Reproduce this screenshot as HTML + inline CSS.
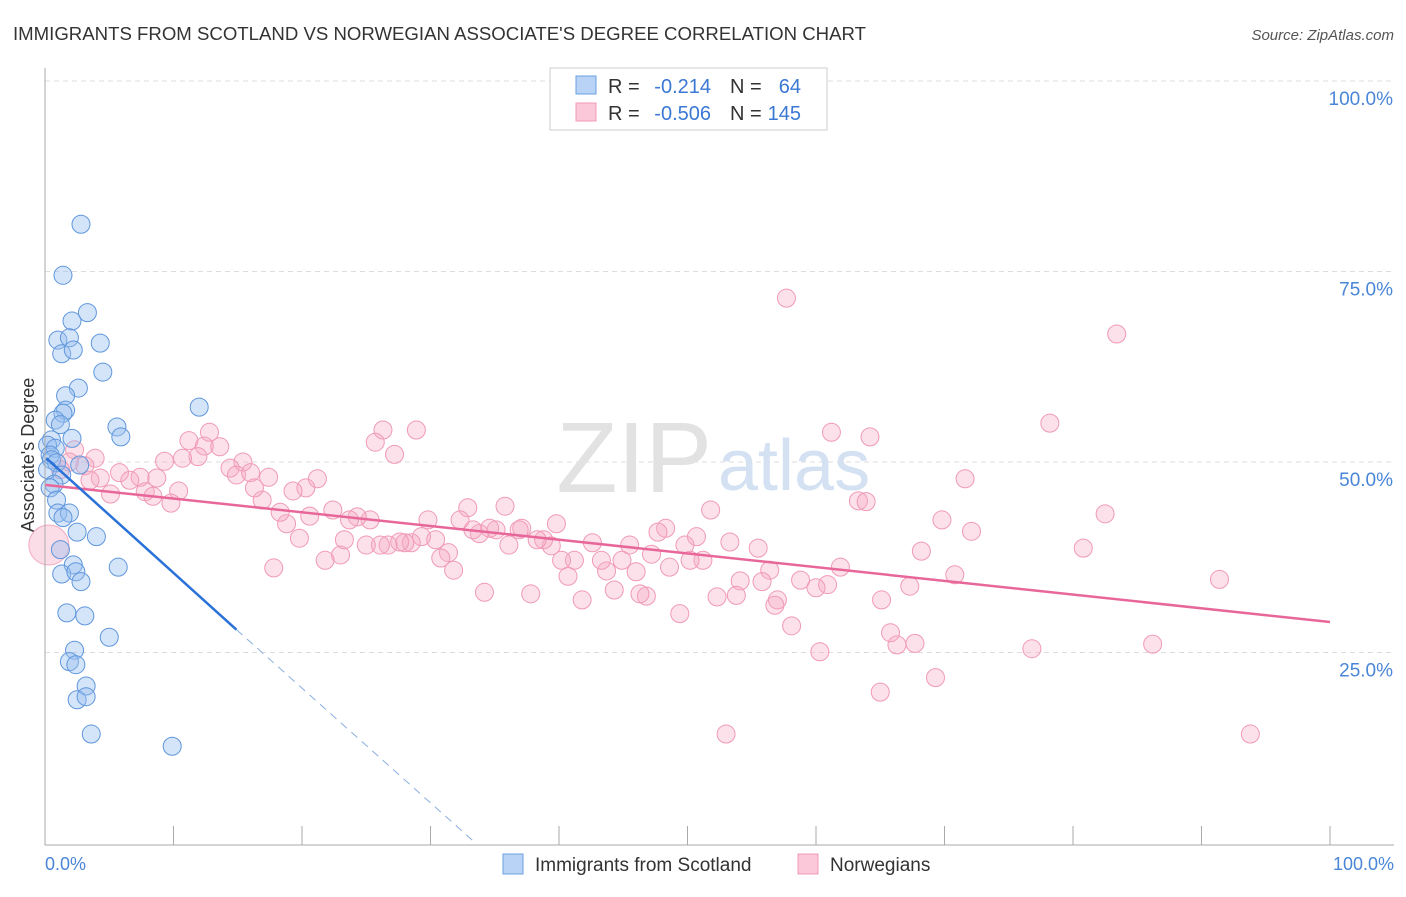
<!DOCTYPE html>
<html><head><meta charset="utf-8"><style>
body{margin:0;background:#fff;font-family:"Liberation Sans",sans-serif;}
svg text{font-family:"Liberation Sans",sans-serif;}
</style></head><body>
<svg width="1406" height="892" viewBox="0 0 1406 892">
<text x="13" y="40" font-size="18" fill="#333" textLength="853" lengthAdjust="spacingAndGlyphs">IMMIGRANTS FROM SCOTLAND VS NORWEGIAN ASSOCIATE'S DEGREE CORRELATION CHART</text>
<text x="1394" y="40" font-size="15" fill="#555" font-style="italic" text-anchor="end">Source: ZipAtlas.com</text>
<g id="grid"></g>
<text x="712" y="492" font-size="100" fill="#e2e2e2" text-anchor="end" font-family="Liberation Serif">ZIP</text>
<text x="718" y="490" font-size="72" fill="#d3e1f3">atlas</text>
<g id="ylabels"></g>
<text transform="translate(34,455) rotate(-90)" font-size="18" fill="#333" text-anchor="middle">Associate's Degree</text>
<g id="pts"></g>
<g id="lines"></g>
<line x1="45" y1="68" x2="45" y2="845" stroke="#aaa"/>
<line x1="45" y1="845" x2="1394" y2="845" stroke="#aaa"/>
<g id="xticks"></g>
<text x="45" y="870" font-size="18" fill="#4a86d8">0.0%</text>
<text x="1394" y="870" font-size="18" fill="#4a86d8" text-anchor="end">100.0%</text>
<g>
<rect x="550" y="68" width="277" height="62" fill="#fff" stroke="#ccc"/>
<rect x="576" y="76" width="20" height="18" fill="#b8d3f5" stroke="#6a9fe0"/>
<rect x="576" y="103" width="20" height="18" fill="#fac8d8" stroke="#f09ab5"/>
<text x="608" y="93" font-size="20" fill="#333">R =</text>
<text x="711" y="93" font-size="20" fill="#3a78d4" text-anchor="end">-0.214</text>
<text x="730" y="93" font-size="20" fill="#333">N =</text>
<text x="801" y="93" font-size="20" fill="#3a78d4" text-anchor="end">64</text>
<text x="608" y="120" font-size="20" fill="#333">R =</text>
<text x="711" y="120" font-size="20" fill="#3a78d4" text-anchor="end">-0.506</text>
<text x="730" y="120" font-size="20" fill="#333">N =</text>
<text x="801" y="120" font-size="20" fill="#3a78d4" text-anchor="end">145</text>
</g>
<g>
<rect x="503" y="854" width="20" height="20" fill="#b8d3f5" stroke="#6a9fe0"/>
<text x="535" y="871" font-size="19" fill="#333">Immigrants from Scotland</text>
<rect x="798" y="854" width="20" height="20" fill="#fac8d8" stroke="#f09ab5"/>
<text x="830" y="871" font-size="19" fill="#333">Norwegians</text>
</g>
</svg>
<script>
const yTicks=[25,50,75,100];
const yTickLabels=["25.0%","50.0%","75.0%","100.0%"];
const xTicks=[0,10,20,30,40,50,60,70,80,90,100];
const blueX=[2.8,1.4,3.3,2.1,1.0,1.9,4.3,1.3,2.2,4.5,2.6,1.6,1.6,12.0,1.4,0.8,1.2,5.6,5.9,2.1,0.5,0.2,0.8,0.4,0.5,0.9,2.7,0.2,1.3,0.7,0.4,0.9,1.0,1.9,1.4,2.5,4.0,1.2,2.2,5.7,1.3,2.4,2.8,1.7,3.1,5.0,2.3,1.9,2.4,3.2,2.5,3.2,3.6,9.9];
const blueY=[81.2,74.5,69.6,68.5,66.0,66.3,65.6,64.2,64.7,61.8,59.7,58.7,56.8,57.2,56.4,55.5,54.9,54.6,53.3,53.1,52.9,52.2,51.8,50.9,50.3,49.9,49.6,49.0,48.3,47.1,46.6,45.0,43.3,43.3,42.7,40.8,40.2,38.5,36.5,36.2,35.3,35.6,34.3,30.2,29.8,27.0,25.3,23.8,23.4,20.6,18.8,19.2,14.3,12.7];
const pinkX=[57.7,83.4,78.2,61.2,64.2,26.3,28.9,25.7,27.2,11.2,12.4,12.8,13.6,11.9,10.7,9.3,3.9,2.3,1.9,15.4,14.4,14.9,16.0,17.4,21.2,20.3,19.3,16.9,16.3,5.8,4.3,3.5,7.4,8.7,6.6,5.1,7.8,10.4,8.4,9.8,71.6,63.3,63.9,82.5,69.8,72.1,80.8,68.2,70.8,91.4,86.2,76.8,93.8,69.3,65.0,53.0,60.3,67.7,66.3,65.8,65.1,67.3,61.9,60.9,58.8,60.0,58.1,57.0,56.8,56.4,55.5,55.8,54.1,53.8,53.3,52.3,51.8,51.2,50.7,50.2,49.8,49.4,48.3,47.7,47.2,48.6,46.8,46.3,46.0,45.5,44.9,44.3,43.7,43.3,42.6,41.8,41.2,40.7,40.2,39.8,39.4,38.8,38.3,37.8,37.1,36.9,36.1,35.8,35.1,34.6,34.2,33.8,33.3,32.9,32.3,31.8,31.4,30.8,30.4,29.8,29.3,28.5,28.0,27.6,26.7,26.1,25.3,24.3,23.7,23.0,22.4,21.8,20.6,19.8,18.8,18.3,17.8,23.3,25.0,1.2,3.1];
const pinkY=[71.5,66.8,55.1,53.9,53.3,54.2,54.2,52.6,51.0,52.8,52.1,53.9,52.0,50.7,50.5,50.1,50.5,51.6,50.0,50.0,49.2,48.3,48.6,48.0,47.8,46.6,46.2,45.0,46.6,48.6,47.9,47.6,48.0,47.9,47.6,45.8,46.1,46.2,45.5,44.6,47.8,44.9,44.8,43.2,42.4,40.9,38.7,38.3,35.2,34.6,26.1,25.5,14.3,21.7,19.8,14.3,25.1,26.2,26.0,27.6,31.9,33.7,36.2,33.9,34.5,33.5,28.5,31.9,31.2,35.8,38.7,34.3,34.4,32.5,39.5,32.3,43.7,37.1,40.2,37.1,39.1,30.1,41.3,40.8,37.9,36.2,32.4,32.7,35.6,39.1,37.1,33.2,35.7,37.1,39.4,31.9,37.1,35.0,37.1,41.9,39.0,39.8,39.8,32.7,41.3,41.1,39.1,44.2,41.1,41.3,32.9,40.6,41.1,44.0,42.4,35.8,38.1,37.4,39.8,42.4,40.2,39.4,39.4,39.5,39.1,39.1,42.4,42.8,42.4,37.8,43.7,37.1,42.9,40.0,41.9,43.4,36.1,39.8,39.1,49.0,49.5];
const pinkTrend=[[0,47.0],[100,29.0]];
const blueTrend=[[0.1,50.5],[14.9,28.0]];
const blueDash=[[14.9,28.0],[33.5,0]];
const NS='http://www.w3.org/2000/svg';
const sx=v=>45+v*12.85, sy=v=>843-v*7.62;
function mk(t,a,p){const e=document.createElementNS(NS,t);for(const k in a)e.setAttribute(k,a[k]);p.appendChild(e);return e;}
const grid=document.getElementById('grid'),yl=document.getElementById('ylabels');
yTicks.forEach((t,i)=>{
 const l=mk('line',{x1:45,x2:1394,y1:sy(t),y2:sy(t),stroke:'#ddd','stroke-dasharray':'5,4'},grid);
 
 
 const tx=mk('text',{x:1393,y:sy(t)+24,'font-size':19,fill:'#4a86d8','text-anchor':'end'},yl);
 tx.textContent=yTickLabels[i];
 
 
});
const xt=document.getElementById('xticks');
xTicks.forEach(t=>{const l=mk('line',{x1:sx(t),x2:sx(t),y1:826,y2:845,stroke:'#aaa'},xt);
 
 });
const pts=document.getElementById('pts');
const big=mk('circle',{cx:sx(0.3),cy:sy(39.1),r:20,fill:'rgba(245,170,195,0.4)',stroke:'#f3a9c0'},pts);


pinkX.forEach((x,i)=>{const c=mk('circle',{cx:sx(x),cy:sy(pinkY[i]),r:9,fill:'rgba(245,170,195,0.35)',stroke:'#f09ab5','stroke-width':1},pts);
 
 });
blueX.forEach((x,i)=>{const c=mk('circle',{cx:sx(x),cy:sy(blueY[i]),r:9,fill:'rgba(150,190,240,0.4)',stroke:'#5f96dc','stroke-width':1},pts);
 
 });
const ln=document.getElementById('lines');
function seg(p,st,w,dash){const l=mk('line',{x1:sx(p[0][0]),y1:sy(p[0][1]),x2:sx(p[1][0]),y2:sy(p[1][1]),stroke:st,'stroke-width':w},ln);if(dash)l.setAttribute('stroke-dasharray',dash);return l;}
let a=seg(pinkTrend,'#e8679a',2.5);


let b=seg(blueTrend,'#2a72d8',2.5);


let c=seg(blueDash,'#8aaee0',1,'8,6');


</script>
</body></html>
